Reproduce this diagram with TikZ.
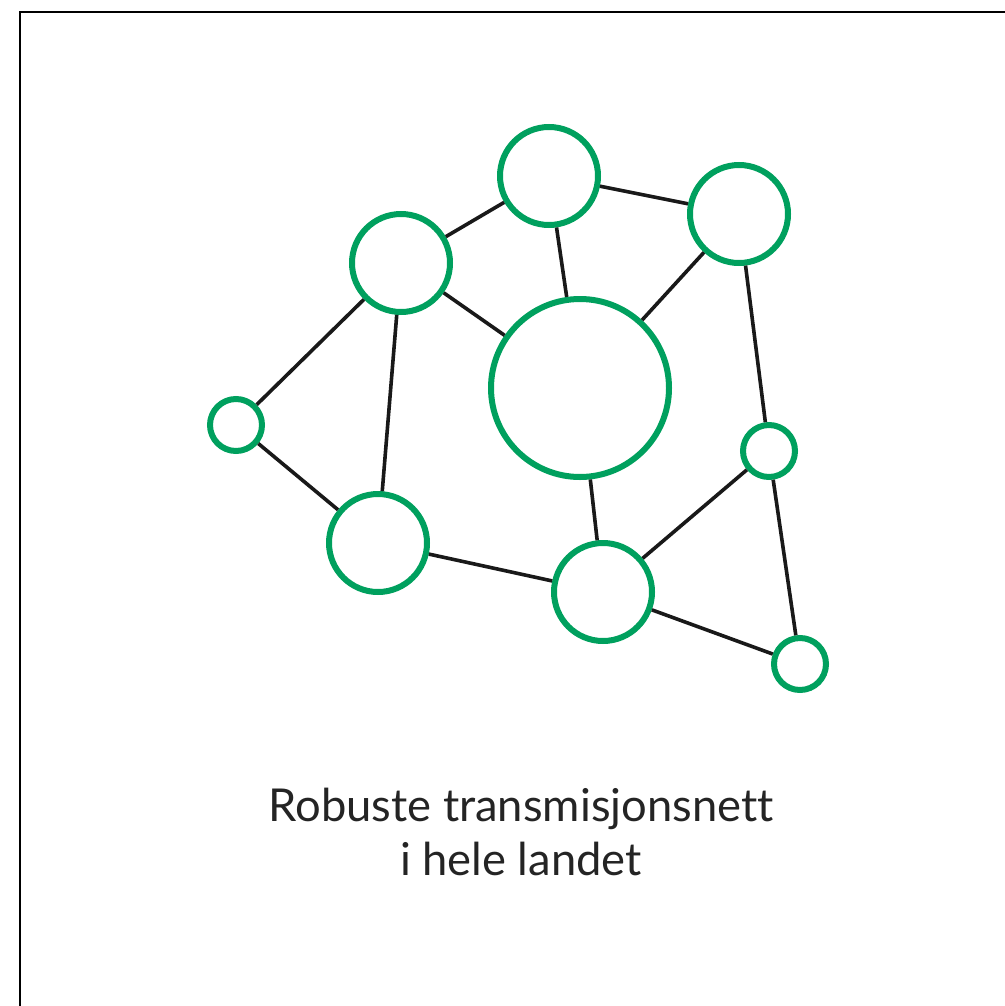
\documentclass[tikz,border=0pt]{standalone}
\usepackage{fontspec}
\setmainfont{Lato}[Ligatures=NoCommon]
\definecolor{nettgreen}{RGB}{0,160,94}
\definecolor{textgray}{RGB}{36,36,36}

\begin{document}
\begin{tikzpicture}[x=0.75pt,y=-0.75pt,
    station/.style={circle,draw=nettgreen,fill=white,line width=4.5pt,inner sep=0pt,minimum size=73.5pt},
    hub/.style={station,minimum size=133.5pt},
    tap/.style={station,minimum size=39pt},
    link/.style={draw=black!90,line width=2.7pt}]
            \useasboundingbox (0,0) rectangle (1004,1006);
            % Frame
            \draw[line width=1.5pt] (20,1020) -- (20,12) -- (1020,12);

            % Draw the stations
            \node[station] (top) at (549,176) {};
            \node[station] (topright) at (739,214) {};
            \node[station] (upleft) at (401,263) {};
            \node[hub] (centre) at (580,388) {};
            \node[tap] (left) at (236,425) {};
            \node[tap] (right) at (769,451) {};
            \node[station] (lowleft) at (378,543) {};
            \node[station] (lowmid) at (603,592) {};
            \node[tap] (corner) at (800,664) {};

            % Connect the stations
            \draw[link] (top) -- (upleft);
            \draw[link] (top) -- (topright);
            \draw[link] (top) -- (centre);
            \draw[link] (topright) -- (centre);
            \draw[link] (topright) -- (right);
            \draw[link] (upleft) -- (centre);
            \draw[link] (upleft) -- (left);
            \draw[link] (upleft) -- (lowleft);
            \draw[link] (left) -- (lowleft);
            \draw[link] (lowleft) -- (lowmid);
            \draw[link] (centre) -- (lowmid);
            \draw[link] (lowmid) -- (right);
            \draw[link] (lowmid) -- (corner);
            \draw[link] (right) -- (corner);

            % Caption
            \node[align=center,text=textgray,font=\fontsize{34}{41}\selectfont] (caption) at (521,832)
                {Robuste transmisjonsnett\\i hele landet};
\end{tikzpicture}
\end{document}
